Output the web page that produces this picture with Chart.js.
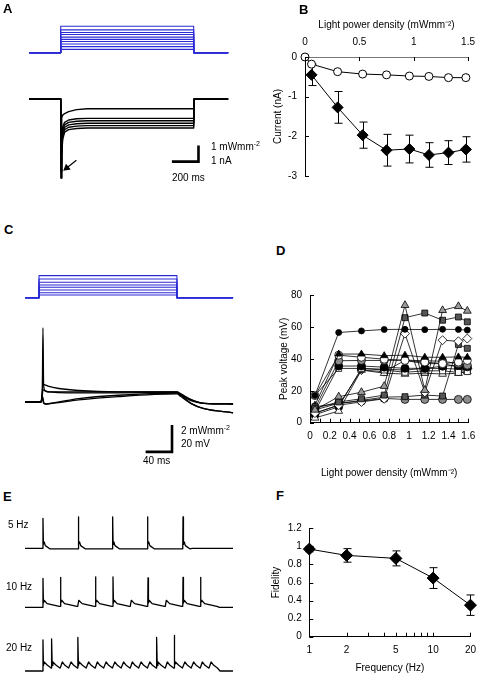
<!DOCTYPE html>
<html>
<head>
<meta charset="utf-8">
<script src="https://cdn.jsdelivr.net/npm/chart.js@4.4.1/dist/chart.umd.min.js"></script>
<style>
  body { margin: 0; background: #fff; }
  #fig { position: relative; width: 484px; height: 678px; font-family: 'Liberation Sans', Arial, sans-serif; color: #000; }
  #fig canvas { position: absolute; }
  .t { position: absolute; font-size: 10px; line-height: 12px; white-space: nowrap; }
  .p { position: absolute; font-size: 13px; font-weight: bold; line-height: 14px; }
  sup { font-size: 7px; vertical-align: 4px; line-height: 0; }
</style>
</head>
<body>
<div id="fig">
  <canvas id="cA" width="240" height="200" style="left:0;top:0"></canvas>
  <canvas id="cB" width="214" height="190" style="left:270px;top:0"></canvas>
  <canvas id="cC" width="240" height="205" style="left:0;top:265px"></canvas>
  <canvas id="cD" width="214" height="200" style="left:270px;top:280px"></canvas>
  <canvas id="cE" width="240" height="173" style="left:0;top:505px"></canvas>
  <canvas id="cF" width="214" height="168" style="left:270px;top:510px"></canvas>

  <div class="p" style="left:3px;top:2px">A</div>
  <div class="p" style="left:299px;top:3px">B</div>
  <div class="p" style="left:4px;top:223px">C</div>
  <div class="p" style="left:276px;top:244px">D</div>
  <div class="p" style="left:3px;top:490px">E</div>
  <div class="p" style="left:276px;top:489px">F</div>

  <div class="t" style="left:211px;top:141px">1 mWmm<sup>-2</sup></div>
  <div class="t" style="left:211px;top:155px">1 nA</div>
  <div class="t" style="left:172px;top:172px">200 ms</div>
  <div class="t" style="left:181px;top:425px">2 mWmm<sup>-2</sup></div>
  <div class="t" style="left:181px;top:438px">20 mV</div>
  <div class="t" style="left:143px;top:455px">40 ms</div>
  <div class="t" style="left:8px;top:519px">5 Hz</div>
  <div class="t" style="left:6px;top:581px">10 Hz</div>
  <div class="t" style="left:6px;top:642px">20 Hz</div>
</div>
<script>
// ---- panel A: light steps (mWmm-2) and photocurrents (nA), time in ms
const aStimLevels = [0.2, 0.37, 0.53, 0.69, 0.82, 0.96, 1.12, 1.25, 1.41, 1.63];
const aTime = [-237, 0, 3, 8, 15, 30, 60, 120, 200, 1000, 1004, 1259];
const aCur1 = [0, 0, -1.6, -1.15, -1.0, -0.9, -0.78, -0.66, -0.6, -0.6, 0, 0];
const aCur2 = [0, 0, -3.4, -2.2, -1.7, -1.45, -1.3, -1.22, -1.2, -1.2, 0, 0];
const aCur3 = [0, 0, -4.0, -2.6, -1.9, -1.6, -1.45, -1.38, -1.35, -1.35, 0, 0];
const aCur4 = [0, 0, -4.5, -3.0, -2.1, -1.75, -1.6, -1.53, -1.5, -1.5, 0, 0];
const aCur5 = [0, 0, -4.9, -3.3, -2.3, -1.9, -1.75, -1.68, -1.65, -1.65, 0, 0];
const aCur6 = [0, 0, -4.9, -3.5, -2.5, -2.05, -1.9, -1.83, -1.8, -1.8, 0, 0];

// ---- panel B: current vs light power density
const bOpenX = [0, 0.06, 0.30, 0.53, 0.75, 0.96, 1.14, 1.32, 1.48];
const bOpen = [0, -0.18, -0.37, -0.43, -0.45, -0.48, -0.49, -0.52, -0.52];
const bFilledX = [0.06, 0.30, 0.53, 0.75, 0.96, 1.14, 1.32, 1.48];
const bFilled = [-0.45, -1.27, -1.97, -2.35, -2.32, -2.47, -2.41, -2.33];
const bFilledErr = [0.27, 0.4, 0.33, 0.4, 0.35, 0.31, 0.3, 0.32];

// ---- panel C: light steps and voltage (mV re rest), time in ms
const cStimLevels = [0.2, 0.37, 0.57, 0.77, 0.94, 1.14, 1.38, 1.63];
const cTime = [-21, 3, 5, 6, 7, 10, 15, 30, 60, 120, 209, 215, 230, 250, 294];
const cV1 = [0, 0, 10, 55, 12, 8, 7.5, 7.5, 7.5, 7.5, 7.5, 5, -1, -5, -8];
const cV2 = [0, 0, 8, 13, 13, 12.5, 11.5, 10, 8.5, 7.5, 7.5, 6, 2, -1, -1.5];
const cV3 = [0, 0, 5, 9, 9, 8, 7.5, 7, 6.8, 6.8, 7, 5.5, 1.5, -1, -1.5];
const cV4 = [0, 0, 4, 3, 0, -1.5, -1.2, 0, 2.5, 5, 6.5, 5, 1, -1, -1.5];
const cV5 = [0, 0, 3, 1, -1, -1.5, -1.3, -0.5, 1.5, 4, 6, 4, -1, -5, -8];

// ---- panel D: peak voltage vs light power density, one array per cell
const dX = [0.05, 0.29, 0.52, 0.75, 0.96, 1.16, 1.34, 1.5, 1.59];
const dBlackDot = [17, 56.5, 57.5, 58.4, 58.5, 58.3, 58.5, 58.4, 58];
const dGreyTri = [8, 16.3, 19.1, 22.9, 73.6, 20.4, 70.4, 72.9, 70];
const dDarkSq = [9, 13, 15, 17.3, 65.8, 68.7, 64.2, 66.2, 63.2];
const dWhiteDiam = [6, 11, 13, 15, 55.8, 19, 51.7, 51, 52.7];
const dDarkSq2 = [10, 12, 14, 16, 16.3, 17.3, 16.7, 49, 46.6];
const dGreyLow = [8, 12.2, 13.5, 15.2, 14.6, 14.6, 14.6, 14.6, 14.6];
const dBlackTri = [11, 43, 43, 42, 42.3, 41, 41, 41.2, 41];
const dWhiteCirc = [17, 42.3, 41, 39.8, 39, 38, 37, 38, 39];
const dGreyCirc = [9, 38.8, 39, 39, 39.2, 38.8, 38.5, 37, 36];
const dBlackCirc = [7, 35.5, 35.5, 34.8, 34.1, 34, 35.4, 36, 35];
const dWhiteSq = [17, 34, 34, 33, 31.6, 32.5, 32.5, 31.5, 32];
const dWhiteTri = [3, 7.3, 33, 31, 30.5, 31, 30.5, 31, 32];
const dBlackCirc2 = [5, 10, 34, 33.5, 33, 34, 34, 33.6, 34];
const dGreyDiam = [6, 11, 33, 32, 39, 37, 37, 35, 34];

// ---- panel E: trains at 5, 10, 20 Hz (event times ms, spike peaks mV)
const e5Times = [0, 202, 398, 597, 800];
const e5Spike = [1, 1, 1, 1, 1];
const e5Peaks = [60, 63, 63, 63, 63];
const e10Times = [0, 100, 200, 300, 400, 500, 600, 700, 800, 900];
const e10Spike = [1, 1, 0, 1, 1, 0, 1, 0, 1, 1];
const e10Peaks = [58, 60, 61, 61, 59, 60, 60];
const e20Times = [0, 50, 100, 150, 200, 250, 300, 350, 400, 450, 500, 550, 600, 650, 700, 750, 800, 850, 900, 950];
const e20Spike = [1, 1, 0, 0, 1, 0, 0, 0, 0, 0, 0, 0, 0, 1, 0, 1, 0, 0, 0, 0];
const e20Peaks = [62, 64, 67, 67, 71];

// ---- panel F: fidelity vs frequency
const fFreq = [1, 2, 5, 10, 20];
const fFidelity = [0.97, 0.90, 0.867, 0.649, 0.349];
const fErr = [0.03, 0.075, 0.083, 0.115, 0.113];
const fTickVals = [1, 2, 3, 4, 5, 6, 7, 8, 9, 10, 20];
const fTickLabels = [1, 2, 5, 10, 20];

Chart.defaults.font.family = "'Liberation Sans', Arial, sans-serif";
Chart.defaults.font.size = 10;
Chart.defaults.color = '#000';

const BLUE = '#2b2bd6';
const xy = (xs, ys) => xs.map((x, i) => ({ x: x, y: ys[i] }));
const fmt = v => String(+(+v).toFixed(1));

// error bars drawn under the markers
const errorBars = {
  id: 'errorBars',
  beforeDatasetsDraw(chart) {
    const ctx = chart.ctx;
    chart.data.datasets.forEach((ds, i) => {
      if (!ds.errors) return;
      const meta = chart.getDatasetMeta(i);
      const xs = chart.scales[meta.xAxisID], ys = chart.scales[meta.yAxisID];
      ctx.save();
      ctx.strokeStyle = '#000';
      ctx.lineWidth = 1;
      ds.data.forEach((p, j) => {
        const e = ds.errors[j];
        const x = Math.round(xs.getPixelForValue(p.x)) + 0.5;
        const y1 = ys.getPixelForValue(p.y + e), y2 = ys.getPixelForValue(p.y - e);
        ctx.beginPath();
        ctx.moveTo(x, y1); ctx.lineTo(x, y2);
        ctx.moveTo(x - 4, y1); ctx.lineTo(x + 4, y1);
        ctx.moveTo(x - 4, y2); ctx.lineTo(x + 4, y2);
        ctx.stroke();
      });
      ctx.restore();
    });
  }
};

// tick marks pointing into the plot area
const innerTicks = {
  id: 'innerTicks',
  afterDraw(chart, args, opts) {
    const ctx = chart.ctx;
    Object.values(chart.scales).forEach(s => {
      const len = opts[s.id];
      if (!len) return;
      ctx.save();
      ctx.strokeStyle = '#000';
      ctx.lineWidth = 1;
      ctx.beginPath();
      s.ticks.forEach(t => {
        const p = Math.round(s.getPixelForValue(t.value)) + 0.5;
        if (s.isHorizontal()) {
          const y0 = s.position === 'top' ? s.bottom : s.top;
          const dir = s.position === 'top' ? 1 : -1;
          ctx.moveTo(p, y0); ctx.lineTo(p, y0 + dir * len);
        } else {
          ctx.moveTo(s.right, p); ctx.lineTo(s.right + len, p);
        }
      });
      ctx.stroke();
      ctx.restore();
    });
  }
};

const base = {
  responsive: false,
  animation: false,
  events: [],
  plugins: { legend: { display: false }, tooltip: { enabled: false } }
};
const axisLook = {
  grid: { display: true, drawOnChartArea: false, drawTicks: false },
  border: { display: true, color: '#000', width: 1 }
};
const hid = (min, max) => ({ type: 'linear', display: false, min: min, max: max });
const trace = (data, yAxisID, extra) => Object.assign({
  data: data, yAxisID: yAxisID, borderColor: '#000', borderWidth: 1.2,
  pointRadius: 0, tension: 0, borderJoinStyle: 'round', fill: false
}, extra || {});
const pulse = (level, on, off, t0, t1) =>
  [{ x: t0, y: 0 }, { x: on, y: 0 }, { x: on, y: level }, { x: off, y: level }, { x: off, y: 0 }, { x: t1, y: 0 }];

// ---------------- A
const aSets = aStimLevels.map(l => trace(pulse(l, 0, 1000, -237, 1259), 'ys', { borderColor: BLUE, borderWidth: 1.1 }));
[aCur1, aCur2, aCur3, aCur4, aCur5, aCur6].forEach(c => aSets.push(trace(xy(aTime, c), 'yc', { borderWidth: 1.4 })));
aSets.push(trace([{ x: 836, y: -3.88 }, { x: 1036, y: -3.88 }, { x: 1036, y: -2.88 }], 'yc', { borderWidth: 2.6, borderJoinStyle: 'miter' }));
aSets.push(trace([{ x: 118, y: -3.8 }, { x: 45, y: -4.28 }], 'yc', {
  borderWidth: 1.2, pointRadius: [0, 3.2], pointStyle: 'triangle', pointRotation: 231,
  pointBackgroundColor: '#000', pointBorderColor: '#000'
}));
new Chart(document.getElementById('cA'), {
  type: 'line',
  data: { datasets: aSets },
  options: Object.assign({}, base, {
    layout: { padding: 0 },
    scales: { x: hid(-417, 1309), ys: hid(-8.82, 2.94), yc: hid(-5.94, 5.82) }
  })
});

// ---------------- B
new Chart(document.getElementById('cB'), {
  type: 'line',
  data: {
    datasets: [
      { data: xy(bFilledX, bFilled), errors: bFilledErr, borderColor: '#000', borderWidth: 1,
        pointStyle: 'rectRot', pointRadius: 5.5, pointBackgroundColor: '#000', pointBorderColor: '#000', clip: false },
      { data: xy(bOpenX, bOpen), borderColor: '#000', borderWidth: 1,
        pointStyle: 'circle', pointRadius: 4, pointBackgroundColor: '#fff', pointBorderColor: '#000', pointBorderWidth: 1, clip: false }
    ]
  },
  options: Object.assign({}, base, {
    layout: { padding: { top: 0, right: 15, bottom: 13, left: 0 } },
    plugins: Object.assign({}, base.plugins, { innerTicks: { x: 4, y: 4 } }),
    scales: {
      x: Object.assign({}, axisLook, {
        type: 'linear', position: 'top', min: 0, max: 1.5,
        border: { display: true, color: '#777', width: 1 },
        afterFit: s => { s.height = 57; },
        ticks: { stepSize: 0.5, padding: 9, maxRotation: 0, callback: fmt },
        title: { display: true, text: 'Light power density (mWmm⁻²)', padding: { top: 19, bottom: 0 } }
      }),
      y: Object.assign({}, axisLook, {
        type: 'linear', min: -3, max: 0,
        afterFit: s => { s.width = 35; },
        ticks: { stepSize: 1, padding: 8 },
        title: { display: true, text: 'Current (nA)', padding: { top: 2, bottom: 0 } }
      })
    }
  }),
  plugins: [errorBars, innerTicks]
});

// ---------------- C
const cSets = cStimLevels.map(l => trace(pulse(l, 0, 209, -21, 294), 'ys', { borderColor: BLUE, borderWidth: 1.1 }));
[cV1, cV2, cV3, cV4, cV5].forEach(v => cSets.push(trace(xy(cTime, v), 'yv', { borderWidth: 1.3, cubicInterpolationMode: 'monotone' })));
cSets.push(trace([{ x: 161.5, y: -37 }, { x: 201.5, y: -37 }, { x: 201.5, y: -17 }], 'yv', { borderWidth: 2.6, borderJoinStyle: 'miter' }));
new Chart(document.getElementById('cC'), {
  type: 'line',
  data: { datasets: cSets },
  options: Object.assign({}, base, {
    layout: { padding: 0 },
    scales: { x: hid(-59.1, 304.5), ys: hid(-12.76, 2.42), yv: hid(-50.4, 101.5) }
  })
});

// ---------------- D
const dStyles = [
  [dBlackDot, 'circle', 3, '#000'],
  [dGreyTri, 'triangle', 4.5, '#9a9a9a'],
  [dDarkSq, 'rect', 4.2, '#555'],
  [dWhiteDiam, 'rectRot', 4.5, '#fff'],
  [dDarkSq2, 'rect', 4.2, '#555'],
  [dGreyLow, 'circle', 4, '#8c8c8c'],
  [dBlackTri, 'triangle', 4, '#000'],
  [dWhiteCirc, 'circle', 4, '#fff'],
  [dGreyCirc, 'circle', 4, '#8c8c8c'],
  [dBlackCirc, 'circle', 4, '#000'],
  [dWhiteSq, 'rect', 4.2, '#fff'],
  [dWhiteTri, 'triangle', 4.5, '#fff'],
  [dBlackCirc2, 'circle', 4, '#000'],
  [dGreyDiam, 'rectRot', 4.5, '#8c8c8c']
];
new Chart(document.getElementById('cD'), {
  type: 'line',
  data: {
    datasets: dStyles.map(s => ({
      data: xy(dX, s[0]), borderColor: '#000', borderWidth: 0.8,
      pointStyle: s[1], pointRadius: s[2], pointBackgroundColor: s[3],
      pointBorderColor: '#000', pointBorderWidth: 0.8, clip: false
    }))
  },
  options: Object.assign({}, base, {
    layout: { padding: { top: 15, right: 15.7, bottom: 0, left: 0 } },
    plugins: Object.assign({}, base.plugins, { innerTicks: { x: 4, y: 4 } }),
    scales: {
      x: Object.assign({}, axisLook, {
        type: 'linear', min: 0, max: 1.6,
        afterFit: s => { s.height = 57.3; },
        ticks: { stepSize: 0.1, padding: 8, autoSkip: false, maxRotation: 0,
          callback: (v, i) => i % 2 === 0 ? fmt(v) : '' },
        title: { display: true, text: 'Light power density (mWmm⁻²)', padding: { top: 0, bottom: 1 } }
      }),
      y: Object.assign({}, axisLook, {
        type: 'linear', min: 0, max: 80,
        afterFit: s => { s.width = 40; },
        ticks: { stepSize: 20, padding: 8 },
        title: { display: true, text: 'Peak voltage (mV)', padding: { top: 8, bottom: 0 } }
      })
    }
  }),
  plugins: [innerTicks]
});

// ---------------- E
// builds a membrane trace from the event times
function eventTrace(times, spikes, peaks, hump, floor, rise, d1, d2, tStart, tEnd) {
  const pts = [{ x: tStart, y: 0 }];
  let prev = 0, k = 0;
  times.forEach((t, i) => {
    pts.push({ x: t, y: prev });
    if (spikes[i]) {
      pts.push({ x: t + 1.5, y: peaks[k++] });
      pts.push({ x: t + 4, y: hump * 0.6 });
      pts.push({ x: t + 8, y: hump });
    } else {
      pts.push({ x: t + rise, y: hump });
    }
    pts.push({ x: t + d1, y: floor + (hump - floor) * 0.45 });
    pts.push({ x: t + d2, y: floor });
    prev = floor;
  });
  const last = times[times.length - 1];
  pts.push({ x: last + d2 + 15, y: 0 });
  pts.push({ x: tEnd, y: 0 });
  return pts;
}
new Chart(document.getElementById('cE'), {
  type: 'line',
  data: {
    datasets: [
      trace(eventTrace(e5Times, e5Spike, e5Peaks, 13, -1, 6, 15, 40, -101, 1087), 'y5', { borderWidth: 1.3 }),
      trace(eventTrace(e10Times, e10Spike, e10Peaks, 14, 2, 6, 25, 95, -101, 1087), 'y10', { borderWidth: 1.3 }),
      trace(eventTrace(e20Times, e20Spike, e20Peaks, 18, 6, 12, 27, 48, -101, 1087), 'y20', { borderWidth: 1.3 })
    ]
  },
  options: Object.assign({}, base, {
    layout: { padding: 0 },
    scales: { x: hid(-244, 1127), y5: hid(-259.4, 86.6), y10: hid(-141.4, 204.6), y20: hid(-14, 332) }
  })
});

// ---------------- F
new Chart(document.getElementById('cF'), {
  type: 'line',
  data: {
    datasets: [{
      data: xy(fFreq, fFidelity), errors: fErr, borderColor: '#000', borderWidth: 1,
      pointStyle: 'rectRot', pointRadius: 6, pointBackgroundColor: '#000', pointBorderColor: '#000', clip: false
    }]
  },
  options: Object.assign({}, base, {
    layout: { padding: { top: 18.3, right: 8, bottom: 0, left: 0 } },
    plugins: Object.assign({}, base.plugins, { innerTicks: { x: 4, y: 4 } }),
    scales: {
      x: Object.assign({}, axisLook, {
        type: 'logarithmic', min: 1, max: 20,
        afterFit: s => { s.height = 41.3; },
        afterBuildTicks: s => { s.ticks = fTickVals.map(v => ({ value: v })); },
        ticks: { padding: 8, autoSkip: false, maxRotation: 0,
          callback: v => fTickLabels.includes(v) ? String(v) : '' },
        title: { display: true, text: 'Frequency (Hz)', padding: { top: 0, bottom: 4 } }
      }),
      y: Object.assign({}, axisLook, {
        type: 'linear', min: 0, max: 1.2,
        afterFit: s => { s.width = 39.3; },
        ticks: { stepSize: 0.2, padding: 7.6, callback: fmt },
        title: { display: true, text: 'Fidelity', padding: { top: 0, bottom: 0 } }
      })
    }
  }),
  plugins: [errorBars, innerTicks]
});
</script>
</body>
</html>
